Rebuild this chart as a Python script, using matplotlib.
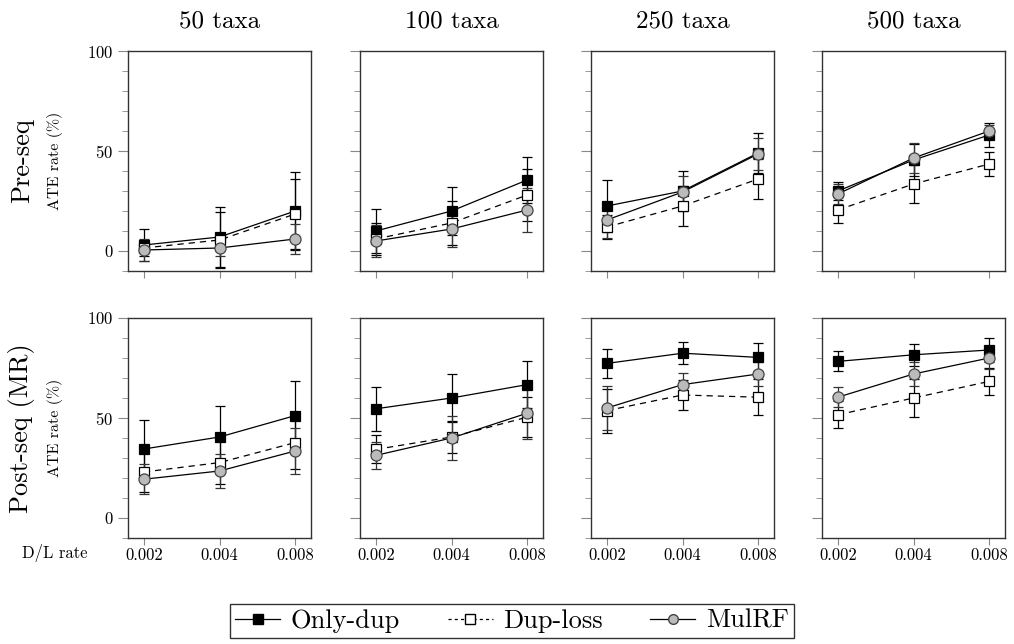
import matplotlib
matplotlib.use("Agg")
import matplotlib.pyplot as plt
from matplotlib.lines import Line2D

plt.rcParams['font.family'] = 'serif'
plt.rcParams['font.serif'] = ['cmr10', 'DejaVu Serif']
plt.rcParams['mathtext.fontset'] = 'cm'
plt.rcParams['axes.formatter.use_mathtext'] = True

taxa = ['50 taxa', '100 taxa', '250 taxa', '500 taxa']
dl_rates = ['0.002', '0.004', '0.008']
row_names = ['Pre-seq', 'Post-seq (MR)']

# Pre-seq (one list per taxa count, values per D/L rate)
pre_only_dup = [[3, 7, 20], [10, 20, 35.5], [22.5, 30, 49], [30, 45.5, 58]]
pre_only_dup_err = [[8, 15, 19.5], [11, 12, 11.5], [13, 10, 10], [4.5, 8, 6]]
pre_dup_loss = [[1.5, 5.5, 18.5], [6, 14, 28], [12, 22.5, 36], [20.5, 33.5, 43.5]]
pre_dup_loss_err = [[4, 14, 17.5], [8, 11, 13], [6, 10, 10], [6.5, 9.5, 6]]
pre_mulrf = [[0.5, 1.5, 6], [5, 11, 20.5], [15.5, 29.5, 48.5], [28.5, 46.5, 60]]
pre_mulrf_err = [[5.5, 4, 7.5], [8, 9, 11], [9, 8, 8], [5, 7.5, 3]]

# Post-seq (MR)
post_only_dup = [[34.5, 40.5, 51.2], [54.6, 60, 66.7], [77.3, 82.4, 80.3], [78.3, 81.6, 84]]
post_only_dup_err = [[14.3, 15.5, 17.3], [11, 12, 11.6], [7.3, 5.5, 7], [5, 5.6, 6]]
post_dup_loss = [[23, 27.7, 37.7], [34.3, 40.5, 50.4], [53.7, 61.5, 60.4], [51.6, 60, 68.3]]
post_dup_loss_err = [[10, 10.7, 13], [7, 8, 10], [11, 7.3, 9], [6.7, 9.3, 6.6]]
post_mulrf = [[19.4, 23.5, 33.5], [31.3, 40, 52.4], [55, 66.7, 72], [60.4, 72, 80]]
post_mulrf_err = [[7.6, 8.7, 11.6], [6.6, 11, 13], [11, 5.6, 6], [5, 6, 5.5]]

rows = [
    [(pre_only_dup, pre_only_dup_err), (pre_dup_loss, pre_dup_loss_err), (pre_mulrf, pre_mulrf_err)],
    [(post_only_dup, post_only_dup_err), (post_dup_loss, post_dup_loss_err), (post_mulrf, post_mulrf_err)],
]

styles = [
    dict(linestyle='-', marker='s', mfc='black', mec='black', ms=7, ecolor='black'),
    dict(linestyle=(0, (5, 4)), marker='s', mfc='white', mec='black', ms=7, ecolor='black'),
    dict(linestyle='-', marker='o', mfc='#bbbbbb', mec='#444444', ms=8, ecolor='#333333'),
]

fig = plt.figure(figsize=(10.14, 6.44), dpi=100)
W, H = 1014, 644
lefts = [128, 360, 591, 822]
tops = [51, 318]
aw, ah = 183, 220
xs = [0, 1, 2]

for r in range(2):
    for c in range(4):
        ax = fig.add_axes([lefts[c] / W, 1 - (tops[r] + ah) / H, aw / W, ah / H])
        for (vals, errs), st in zip(rows[r], styles):
            ax.errorbar(xs, vals[c], yerr=errs[c], color='black', lw=0.9,
                        linestyle=st['linestyle'], marker=st['marker'],
                        mfc=st['mfc'], mec=st['mec'], ms=st['ms'], mew=0.9,
                        ecolor=st['ecolor'], elinewidth=0.9, capsize=3.6, capthick=0.9)
        ax.set_xlim(-0.21, 2.21)
        ax.set_ylim(-10, 100)
        ax.set_xticks(xs)
        ax.set_yticks([0, 50, 100])
        ax.set_yticks(range(-10, 101, 10), minor=True)
        ax.tick_params(which='both', direction='out', color='#888888', labelsize=12)
        ax.tick_params(which='major', length=7)
        ax.tick_params(which='minor', length=4)
        ax.tick_params(axis='x', length=5, pad=2)
        for sp in ax.spines.values():
            sp.set_color('#333333')
            sp.set_linewidth(1.0)
        if r == 1:
            ax.set_xticklabels(dl_rates)
        else:
            ax.set_xticklabels([])
        if c > 0:
            ax.set_yticklabels([])
        if r == 0:
            ax.set_title(taxa[c], fontsize=18, pad=17)

for r in range(2):
    yc = 1 - (tops[r] + ah / 2) / H
    fig.text(22 / W, yc, row_names[r], rotation=90, ha='center', va='center', fontsize=19)
    fig.text(55 / W, yc, 'ATE rate (%)', rotation=90, ha='center', va='center', fontsize=11.5)

fig.text(22 / W, 1 - 553 / H, 'D/L rate', ha='left', va='center', fontsize=12)

handles = [
    Line2D([], [], color='black', lw=0.9, linestyle='-', marker='s', mfc='black', mec='black', ms=7),
    Line2D([], [], color='black', lw=0.9, linestyle=(0, (2.5, 2.5)), marker='s', mfc='white', mec='black', ms=7),
    Line2D([], [], color='black', lw=0.9, linestyle='-', marker='o', mfc='#bbbbbb', mec='#444444', ms=7),
]
leg = fig.legend(handles, ['Only-dup', 'Dup-loss', 'MulRF'], loc='center',
                 bbox_to_anchor=(512 / W, 1 - 621 / H), ncol=3, fontsize=19,
                 frameon=True, fancybox=False, edgecolor='black', handlelength=1.7,
                 handletextpad=0.4, columnspacing=1.8, borderpad=0.2)
leg.get_frame().set_linewidth(1.0)

fig.savefig('out.png', dpi=100)
